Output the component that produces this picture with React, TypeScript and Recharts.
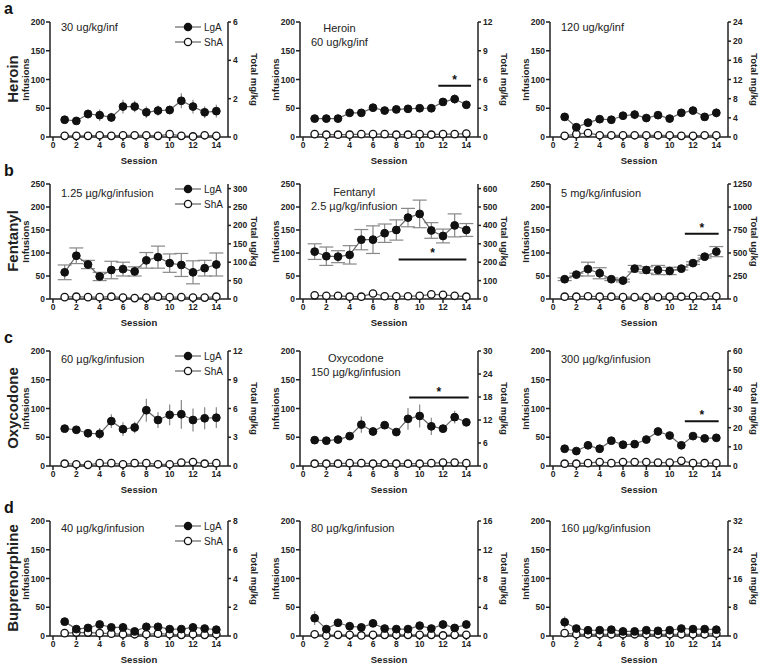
import React from "react";
import { LineChart, Line, XAxis, YAxis, ErrorBar, ReferenceLine } from "recharts";

// sessions 1..14, x axis ticks
const sessions = [1, 2, 3, 4, 5, 6, 7, 8, 9, 10, 11, 12, 13, 14];
const sessionTicks = [0, 2, 4, 6, 8, 10, 12, 14];
const infTicks200 = [0, 50, 100, 150, 200];
const infTicks250 = [0, 50, 100, 150, 200, 250];

// Heroin
const heroin30LgA = [30, 28, 40, 38, 34, 53, 53, 43, 46, 47, 63, 53, 43, 45];
const heroin30Err = [4, 3, 8, 10, 8, 12, 10, 10, 9, 8, 13, 12, 10, 11];
const heroin30ShA = [2, 2, 2, 3, 2, 3, 3, 3, 2, 5, 2, 1, 3, 2];
const heroin60LgA = [32, 32, 32, 42, 42, 51, 46, 48, 49, 50, 50, 61, 66, 56];
const heroin60Err = [3, 2, 2, 3, 2, 3, 2, 2, 2, 2, 2, 5, 8, 4];
const heroin60ShA = [5, 4, 4, 4, 5, 5, 5, 4, 4, 5, 4, 5, 5, 6];
const heroin120LgA = [35, 17, 25, 31, 30, 37, 39, 33, 38, 32, 42, 46, 35, 42];
const heroin120Err = [3, 3, 3, 4, 3, 4, 8, 3, 4, 3, 3, 3, 4, 8];
const heroin120ShA = [2, 5, 7, 3, 3, 3, 3, 3, 3, 3, 2, 2, 3, 3];

// Fentanyl
const fent125LgA = [58, 94, 75, 49, 63, 65, 60, 84, 91, 78, 74, 58, 67, 75];
const fent125Err = [16, 17, 9, 9, 19, 15, 10, 17, 24, 20, 25, 25, 17, 25];
const fent125ShA = [4, 5, 4, 4, 5, 3, 2, 3, 5, 4, 4, 3, 3, 5];
const fent25LgA = [103, 93, 92, 96, 129, 129, 143, 150, 177, 185, 149, 137, 160, 150];
const fent25Err = [17, 20, 13, 20, 22, 30, 20, 22, 20, 30, 17, 15, 25, 14];
const fent25ShA = [8, 7, 7, 5, 5, 12, 6, 6, 6, 7, 10, 9, 7, 5];
const fent5LgA = [43, 53, 65, 56, 43, 40, 66, 63, 63, 61, 66, 78, 92, 103];
const fent5Err = [3, 3, 15, 12, 3, 3, 7, 7, 10, 8, 3, 3, 3, 11];
const fent5ShA = [5, 5, 6, 5, 5, 4, 4, 4, 4, 5, 5, 6, 6, 6];

// Oxycodone
const oxy60LgA = [65, 63, 57, 56, 78, 64, 67, 97, 80, 89, 90, 80, 83, 84];
const oxy60Err = [4, 5, 5, 10, 12, 12, 10, 20, 14, 18, 25, 20, 19, 18];
const oxy60ShA = [4, 3, 2, 5, 5, 3, 5, 5, 3, 3, 6, 7, 4, 5];
const oxy150LgA = [45, 44, 46, 52, 72, 60, 71, 59, 82, 87, 69, 65, 85, 76];
const oxy150Err = [2, 2, 2, 3, 14, 6, 5, 3, 19, 20, 15, 4, 11, 7];
const oxy150ShA = [4, 4, 4, 5, 5, 4, 4, 4, 4, 4, 5, 6, 6, 5];
const oxy300LgA = [30, 26, 36, 30, 44, 37, 38, 46, 60, 53, 36, 52, 48, 49];
const oxy300Err = [2, 2, 3, 2, 3, 2, 3, 3, 4, 6, 2, 3, 3, 3];
const oxy300ShA = [4, 4, 5, 7, 5, 7, 7, 7, 6, 6, 9, 5, 5, 5];

// Buprenorphine
const bup40LgA = [25, 12, 14, 20, 15, 15, 8, 16, 16, 12, 12, 15, 13, 11];
const bup40Err = [2, 2, 2, 2, 2, 2, 2, 2, 2, 2, 2, 2, 2, 2];
const bup40ShA = [5, 6, 6, 5, 4, 3, 3, 3, 4, 3, 2, 3, 2, 3];
const bup80LgA = [31, 12, 23, 17, 15, 22, 13, 12, 12, 18, 13, 20, 14, 20];
const bup80Err = [12, 2, 6, 2, 2, 4, 2, 2, 2, 2, 2, 2, 2, 2];
const bup80ShA = [3, 1, 2, 2, 1, 2, 2, 2, 2, 2, 2, 1, 2, 2];
const bup160LgA = [24, 13, 10, 10, 11, 8, 8, 10, 9, 10, 13, 12, 12, 11];
const bup160Err = [10, 2, 2, 2, 2, 2, 2, 2, 2, 2, 2, 2, 2, 2];
const bup160ShA = [5, 3, 3, 3, 3, 3, 3, 3, 3, 3, 3, 3, 3, 4];

// right axis (cumulative dose) ranges
const rTicksA1 = [0, 2, 4, 6];
const rTicksA2 = [0, 3, 6, 9, 12];
const rTicksA3 = [0, 4, 8, 12, 16, 20, 24];
const rTicksB1 = [0, 50, 100, 150, 200, 250, 300];
const rTicksB2 = [0, 100, 200, 300, 400, 500, 600];
const rTicksB3 = [0, 250, 500, 750, 1000, 1250];
const rTicksC1 = [0, 3, 6, 9, 12];
const rTicksC2 = [0, 6, 12, 18, 24, 30];
const rTicksC3 = [0, 10, 20, 30, 40, 50, 60];
const rTicksD1 = [0, 2, 4, 6, 8];
const rTicksD2 = [0, 4, 8, 12, 16];
const rTicksD3 = [0, 8, 16, 24, 32];

// significance bars: [from session, to session, infusions level]
const sigA2 = [11.6, 14.4, 89];
const sigB2 = [8.2, 14.0, 86];
const sigB3 = [11.3, 14.2, 142];
const sigC2 = [9.1, 14.2, 119];
const sigC3 = [11.3, 14.2, 78];

const rowTops = [22, 184, 351, 521];
const rowLetters = ["a", "b", "c", "d"];
const drugNames = ["Heroin", "Fentanyl", "Oxycodone", "Buprenorphine"];

type Panel = {
  lga: number[]; err: number[]; sha: number[];
  yMax: number; yTicks: number[];
  rMax: number; rTicks: number[]; rLabel: string;
  dose: string[]; doseTop: number; caps: number;
  sig?: number[];
};

const panels: Panel[][] = [
  [
    { lga: heroin30LgA, err: heroin30Err, sha: heroin30ShA, yMax: 200, yTicks: infTicks200, rMax: 6, rTicks: rTicksA1, rLabel: "Total mg/kg", dose: ["30 ug/kg/inf"], doseTop: 5, caps: 0 },
    { lga: heroin60LgA, err: heroin60Err, sha: heroin60ShA, yMax: 200, yTicks: infTicks200, rMax: 12, rTicks: rTicksA2, rLabel: "Total mg/kg", dose: ["Heroin", "60 ug/kg/inf"], doseTop: 6, caps: 0, sig: sigA2 },
    { lga: heroin120LgA, err: heroin120Err, sha: heroin120ShA, yMax: 200, yTicks: infTicks200, rMax: 24, rTicks: rTicksA3, rLabel: "Total mg/kg", dose: ["120 ug/kg/inf"], doseTop: 5, caps: 0 },
  ],
  [
    { lga: fent125LgA, err: fent125Err, sha: fent125ShA, yMax: 250, yTicks: infTicks250, rMax: 312.5, rTicks: rTicksB1, rLabel: "Total ug/kg", dose: ["1.25 µg/kg/infusion"], doseTop: 9, caps: 7 },
    { lga: fent25LgA, err: fent25Err, sha: fent25ShA, yMax: 250, yTicks: infTicks250, rMax: 625, rTicks: rTicksB2, rLabel: "Total ug/kg", dose: ["Fentanyl", "2.5 µg/kg/infusion"], doseTop: 8, caps: 7, sig: sigB2 },
    { lga: fent5LgA, err: fent5Err, sha: fent5ShA, yMax: 250, yTicks: infTicks250, rMax: 1250, rTicks: rTicksB3, rLabel: "Total ug/kg", dose: ["5 mg/kg/infusion"], doseTop: 9, caps: 7, sig: sigB3 },
  ],
  [
    { lga: oxy60LgA, err: oxy60Err, sha: oxy60ShA, yMax: 200, yTicks: infTicks200, rMax: 12, rTicks: rTicksC1, rLabel: "Total mg/kg", dose: ["60 µg/kg/infusion"], doseTop: 8, caps: 0 },
    { lga: oxy150LgA, err: oxy150Err, sha: oxy150ShA, yMax: 200, yTicks: infTicks200, rMax: 30, rTicks: rTicksC2, rLabel: "Total mg/kg", dose: ["Oxycodone", "150 µg/kg/infusion"], doseTop: 7, caps: 0, sig: sigC2 },
    { lga: oxy300LgA, err: oxy300Err, sha: oxy300ShA, yMax: 200, yTicks: infTicks200, rMax: 60, rTicks: rTicksC3, rLabel: "Total mg/kg", dose: ["300 µg/kg/infusion"], doseTop: 8, caps: 0, sig: sigC3 },
  ],
  [
    { lga: bup40LgA, err: bup40Err, sha: bup40ShA, yMax: 200, yTicks: infTicks200, rMax: 8, rTicks: rTicksD1, rLabel: "Total mg/kg", dose: ["40 µg/kg/infusion"], doseTop: 7, caps: 0 },
    { lga: bup80LgA, err: bup80Err, sha: bup80ShA, yMax: 200, yTicks: infTicks200, rMax: 16, rTicks: rTicksD2, rLabel: "Total mg/kg", dose: ["80 µg/kg/infusion"], doseTop: 7, caps: 0 },
    { lga: bup160LgA, err: bup160Err, sha: bup160ShA, yMax: 200, yTicks: infTicks200, rMax: 32, rTicks: rTicksD3, rLabel: "Total mg/kg", dose: ["160 µg/kg/infusion"], doseTop: 7, caps: 0 },
  ],
];

const AX = "#222";
const tickStyle = { fontSize: 8.5, fontWeight: 700, fill: AX };
const titleStyle = { fontSize: 9.5, fontWeight: 700, fill: AX, textAnchor: "middle" as const };

const CW = 262;
const CH = 175;
const TOP = 10;

function LegendBox() {
  const row = (label: string, fill: string, y: number) => (
    <g>
      <line x1={2} x2={28} y1={y} y2={y} stroke="#666" strokeWidth={1.2} />
      <circle cx={15} cy={y} r={3.6} fill={fill} stroke="#111" strokeWidth={1.3} />
      <text x={31} y={y + 3.5} fontSize={10} fill="#222">{label}</text>
    </g>
  );
  return (
    <svg width={60} height={32} style={{ position: "absolute", left: 173, top: TOP - 2 }}>
      {row("LgA", "#111", 7)}
      {row("ShA", "#fff", 22)}
    </svg>
  );
}

function PanelChart({ p, row, col }: { p: Panel; row: number; col: number }) {
  const data = sessions.map((s, i) => ({ session: s, lga: p.lga[i], err: p.err[i], sha: p.sha[i] }));
  return (
    <div style={{ position: "absolute", left: col * 250, top: rowTops[row] - TOP, width: CW, height: CH }}>
      <LineChart width={CW} height={CH} data={data} margin={{ top: TOP, right: 0, left: 0, bottom: 0 }}>
        <XAxis
          dataKey="session" type="number" domain={[0, 15]} ticks={sessionTicks}
          padding={{ left: 3, right: 0 }} height={CH - TOP - 115}
          stroke={AX} strokeWidth={1.5} tickSize={4} tickMargin={1} tick={tickStyle}
          label={{ value: "Session", position: "insideBottom", offset: 23, style: titleStyle }}
        />
        <YAxis
          yAxisId="left" domain={[0, p.yMax]} ticks={p.yTicks} width={50}
          stroke={AX} strokeWidth={1.5} tickSize={4} tickMargin={1} tick={tickStyle}
          label={{ value: "Infusions", angle: -90, position: "insideLeft", offset: 26, style: titleStyle }}
        />
        <YAxis
          yAxisId="right" orientation="right" type="number" domain={[0, p.rMax]} ticks={p.rTicks}
          width={34} allowDataOverflow stroke={AX} strokeWidth={1.5} tickSize={3} tickMargin={2} tick={{ ...tickStyle, textAnchor: "start" }}
          label={{ value: p.rLabel, angle: 90, position: "insideRight", offset: 8, style: titleStyle }}
        />
        <Line
          yAxisId="left" dataKey="sha" stroke="#666" strokeWidth={1.2} isAnimationActive={false}
          dot={{ r: 3.7, fill: "#fff", stroke: "#111", strokeWidth: 1.3 }} activeDot={false}
        />
        <Line
          yAxisId="left" dataKey="lga" stroke="#666" strokeWidth={1.2} isAnimationActive={false}
          dot={{ r: 3.9, fill: "#111", stroke: "#111", strokeWidth: 1 }} activeDot={false}
        >
          <ErrorBar dataKey="err" direction="y" width={p.caps} stroke="#888" strokeWidth={1.2} />
        </Line>
        {p.sig && (
          <ReferenceLine
            yAxisId="left" ifOverflow="visible"
            segment={[{ x: p.sig[0], y: p.sig[2] }, { x: p.sig[1], y: p.sig[2] }]}
            stroke="#111" strokeWidth={2}
            label={{ value: "*", position: "top", offset: 2, fill: "#111", fontSize: 12, fontWeight: 700 }}
          />
        )}
      </LineChart>
      <div
        style={{
          position: "absolute", left: 61, top: TOP + p.doseTop - 7, display: "inline-block",
          textAlign: "center", fontSize: 11, lineHeight: "14px", color: "#222", whiteSpace: "nowrap",
        }}
      >
        {p.dose.map((d) => (
          <div key={d}>{d}</div>
        ))}
      </div>
      {col === 0 && <LegendBox />}
    </div>
  );
}

export default function App() {
  return (
    <div
      style={{
        position: "absolute", left: 0, top: 0, width: 760, height: 665, background: "#fff",
        fontFamily: "'Liberation Sans', Arial, sans-serif", overflow: "hidden",
      }}
    >
      {panels.map((rowPanels, r) => (
        <React.Fragment key={r}>
          {rowPanels.map((p, c) => (
            <PanelChart key={c} p={p} row={r} col={c} />
          ))}
          <div style={{ position: "absolute", left: 4, top: rowTops[r] - 22, fontSize: 16, fontWeight: 700, color: "#111" }}>
            {rowLetters[r]}
          </div>
          <div
            style={{
              position: "absolute", left: 12, top: rowTops[r] + 57, fontSize: 15, fontWeight: 700, color: "#222",
              transform: "translate(-50%, -50%) rotate(-90deg)", whiteSpace: "nowrap",
            }}
          >
            {drugNames[r]}
          </div>
        </React.Fragment>
      ))}
    </div>
  );
}
